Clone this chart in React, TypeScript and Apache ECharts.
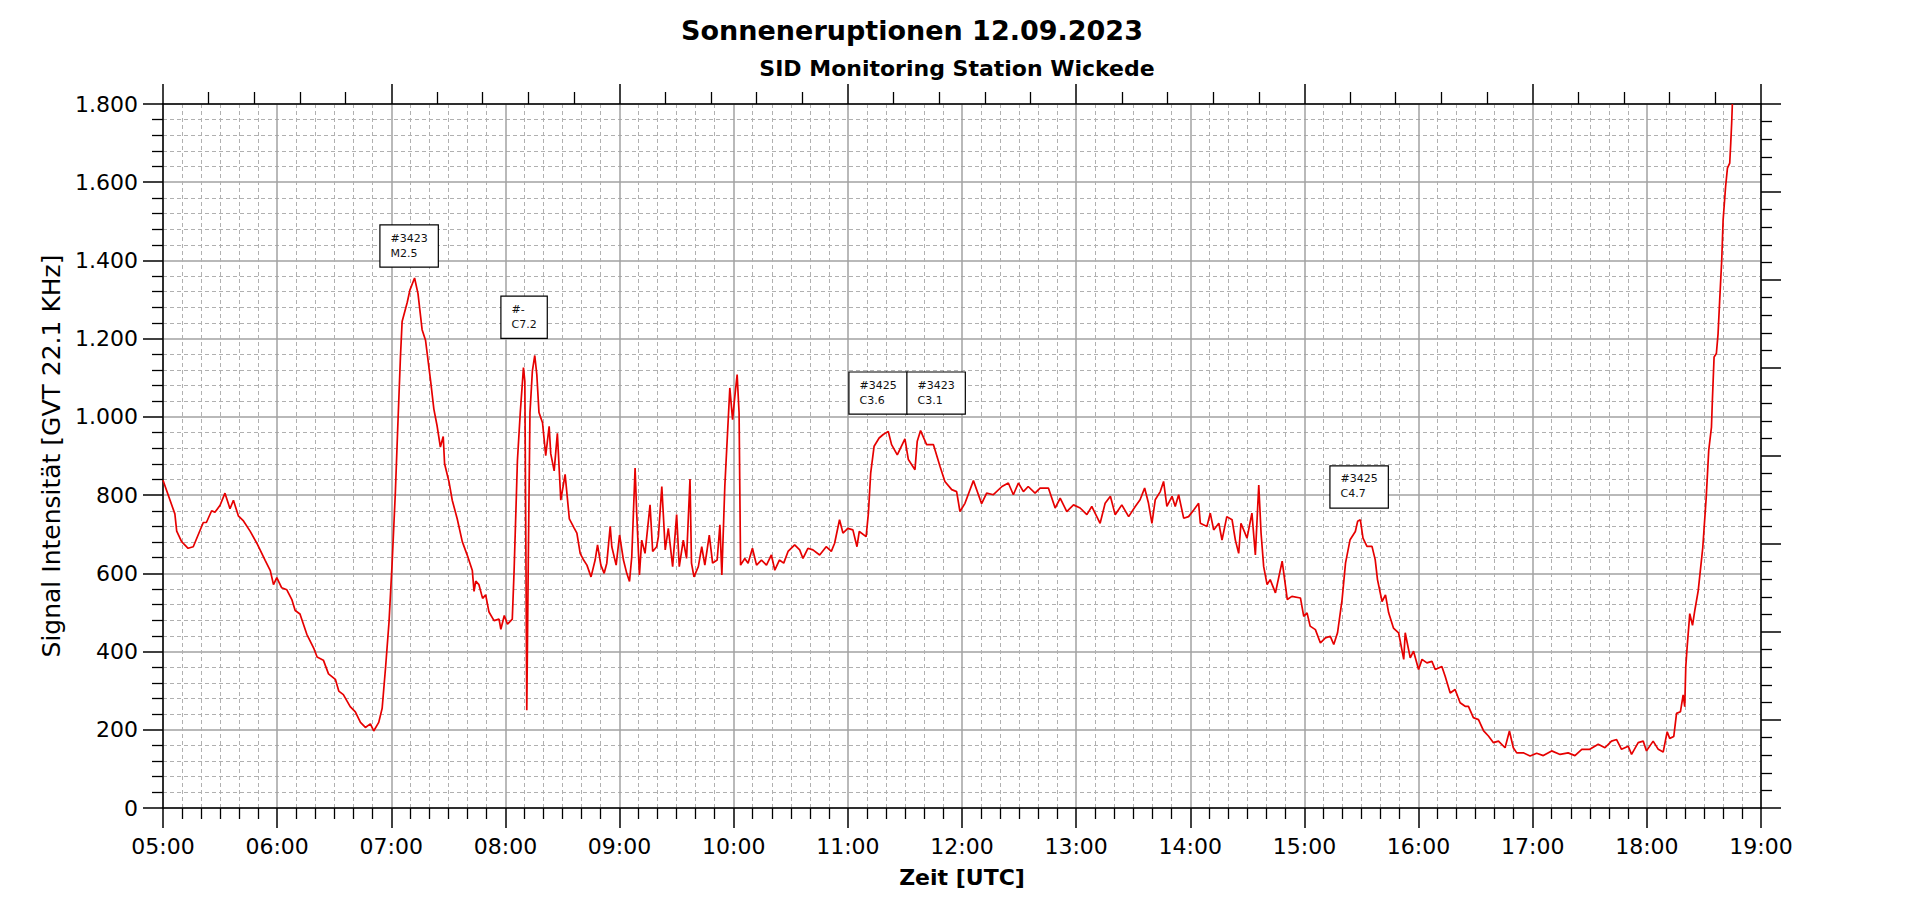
import React, { useEffect, useRef } from "react";
import * as echarts from "echarts";

// Time in decimal hours (UTC), signal value
const seg05to08: [number, number][] = [
  [5.0, 838], [5.104, 752], [5.12, 708], [5.163, 681], [5.22, 664], [5.265, 668], [5.353, 730], [5.38, 730],
  [5.426, 760], [5.455, 756], [5.5, 774], [5.543, 805], [5.587, 765], [5.617, 787], [5.66, 747], [5.705, 734],
  [5.763, 708], [5.822, 677], [5.895, 633], [5.94, 607], [5.968, 571], [5.997, 589], [6.04, 563], [6.085, 558],
  [6.13, 532], [6.158, 505], [6.2, 496], [6.26, 444], [6.32, 409], [6.35, 386], [6.405, 378], [6.45, 343],
  [6.51, 329], [6.54, 299], [6.58, 290], [6.64, 259], [6.685, 246], [6.73, 219], [6.773, 206], [6.817, 215],
  [6.846, 197], [6.89, 219], [6.92, 255], [6.95, 360], [6.98, 475], [7.007, 624], [7.036, 809], [7.057, 976],
  [7.08, 1152], [7.095, 1244], [7.14, 1293], [7.163, 1324], [7.204, 1355], [7.234, 1315], [7.27, 1223],
  [7.3, 1196], [7.315, 1161], [7.345, 1091], [7.373, 1020], [7.402, 976], [7.43, 923], [7.455, 950],
  [7.467, 880], [7.505, 835], [7.534, 787], [7.578, 739], [7.622, 681], [7.666, 646], [7.71, 607], [7.725, 554],
  [7.74, 580], [7.768, 571], [7.8, 536], [7.827, 545], [7.856, 501], [7.9, 479], [7.944, 483], [7.96, 457],
  [7.99, 492], [8.018, 470], [8.06, 483], [8.076, 607], [8.105, 888], [8.13, 1011], [8.158, 1126], [8.17, 1091],
  [8.18, 624], [8.187, 250], [8.2, 624], [8.215, 1011], [8.236, 1117], [8.257, 1157], [8.275, 1108],
  [8.294, 1011], [8.325, 985], [8.353, 901], [8.383, 976], [8.397, 906], [8.427, 862], [8.455, 958],
  [8.485, 787], [8.523, 853], [8.56, 739], [8.6, 717],
];

const seg08to11: [number, number][] = [
  [8.626, 703], [8.655, 651], [8.685, 634], [8.714, 621], [8.75, 591], [8.786, 634], [8.807, 673], [8.836, 621],
  [8.865, 600], [8.888, 626], [8.918, 720], [8.932, 668], [8.97, 621], [9.0, 698], [9.034, 634], [9.063, 600],
  [9.087, 579], [9.107, 643], [9.136, 869], [9.15, 754], [9.174, 596], [9.194, 685], [9.223, 651], [9.267, 775],
  [9.29, 656], [9.325, 668], [9.34, 694], [9.37, 822], [9.4, 660], [9.427, 715], [9.465, 617], [9.5, 750],
  [9.523, 617], [9.558, 685], [9.587, 638], [9.617, 841], [9.63, 626], [9.652, 591], [9.69, 617], [9.72, 668],
  [9.747, 621], [9.786, 698], [9.815, 626], [9.855, 634], [9.879, 724], [9.896, 596], [9.922, 822], [9.943, 942],
  [9.966, 1074], [9.99, 993], [10.01, 1053], [10.03, 1108], [10.047, 1010], [10.06, 621], [10.097, 638],
  [10.126, 626], [10.164, 664], [10.2, 621], [10.243, 634], [10.287, 621], [10.33, 647], [10.36, 608],
  [10.4, 634], [10.438, 626], [10.476, 656], [10.534, 673], [10.578, 660], [10.607, 638], [10.65, 664],
  [10.694, 660], [10.753, 647], [10.81, 668], [10.855, 656], [10.884, 677], [10.927, 737], [10.957, 703],
  [11.0, 715], [11.044, 711], [11.08, 668], [11.1, 707], [11.16, 694], [11.18, 754], [11.2, 856], [11.23, 925],
  [11.274, 946], [11.31, 955], [11.354, 963], [11.383, 929], [11.433, 903],
];

const seg11to15: [number, number][] = [
  [11.5, 944], [11.53, 891], [11.588, 865], [11.608, 938], [11.637, 965], [11.69, 929], [11.75, 929],
  [11.807, 874], [11.85, 835], [11.91, 814], [11.953, 809], [11.982, 758], [12.026, 779], [12.1, 837],
  [12.172, 778], [12.216, 805], [12.275, 801], [12.35, 822], [12.406, 831], [12.45, 801], [12.494, 831],
  [12.538, 809], [12.58, 822], [12.64, 805], [12.684, 818], [12.757, 818], [12.816, 767], [12.86, 792],
  [12.918, 758], [12.977, 775], [13.035, 767], [13.094, 750], [13.137, 771], [13.21, 728], [13.254, 779],
  [13.3, 797], [13.342, 750], [13.4, 775], [13.46, 745], [13.518, 771], [13.56, 788], [13.6, 818],
  [13.634, 779], [13.664, 728], [13.693, 788], [13.737, 809], [13.766, 835], [13.795, 771], [13.84, 797],
  [13.868, 771], [13.898, 801], [13.942, 741], [13.985, 745], [14.03, 762], [14.073, 779], [14.088, 728],
  [14.146, 720], [14.175, 754], [14.205, 711], [14.25, 728], [14.278, 685], [14.32, 745], [14.366, 737],
  [14.395, 685], [14.424, 651], [14.444, 728], [14.497, 690], [14.54, 754], [14.57, 647], [14.6, 826],
  [14.62, 703], [14.643, 617], [14.673, 571], [14.7, 584], [14.746, 550], [14.805, 631], [14.85, 533],
  [14.89, 541],
];

const seg15to19: [number, number][] = [
  [14.965, 537], [14.994, 490], [15.023, 499], [15.05, 465], [15.096, 456], [15.14, 422], [15.184, 435],
  [15.227, 439], [15.257, 418], [15.29, 448], [15.33, 533], [15.36, 626], [15.4, 686], [15.446, 707],
  [15.466, 733], [15.49, 737], [15.513, 690], [15.548, 669], [15.592, 669], [15.62, 635], [15.64, 584],
  [15.68, 528], [15.71, 545], [15.738, 499], [15.78, 460], [15.825, 448], [15.87, 380], [15.883, 448],
  [15.927, 384], [15.956, 401], [16.0, 354], [16.03, 380], [16.073, 371], [16.117, 375], [16.146, 354],
  [16.204, 362], [16.233, 337], [16.277, 294], [16.32, 303], [16.364, 269], [16.408, 260], [16.437, 260],
  [16.48, 231], [16.525, 226], [16.57, 197], [16.612, 184], [16.656, 167], [16.7, 171], [16.758, 154],
  [16.796, 197], [16.83, 154], [16.86, 141], [16.918, 141], [16.977, 133], [17.035, 140], [17.093, 134],
  [17.166, 146], [17.24, 137], [17.31, 141], [17.37, 134], [17.43, 150], [17.5, 150], [17.574, 163],
  [17.633, 154], [17.69, 171], [17.735, 175], [17.778, 150], [17.837, 158], [17.866, 137], [17.924, 167],
  [17.968, 171], [17.997, 146], [18.055, 171], [18.1, 150], [18.143, 143], [18.178, 195], [18.2, 178],
  [18.236, 183], [18.26, 242], [18.294, 246], [18.318, 289], [18.332, 259], [18.341, 361], [18.353, 412],
  [18.376, 497], [18.4, 467], [18.42, 505], [18.45, 556], [18.478, 633], [18.49, 666], [18.52, 794],
  [18.542, 914], [18.566, 974], [18.574, 1042], [18.589, 1153], [18.609, 1162], [18.624, 1213],
  [18.638, 1298], [18.656, 1401], [18.668, 1503], [18.69, 1589], [18.706, 1636], [18.726, 1649],
  [18.735, 1700], [18.743, 1751], [18.749, 1800],
];

const flareLabels: string[] = ["#3423\nM2.5", "#-\nC7.2", "#3425\nC3.6", "#3423\nC3.1", "#3425\nC4.7"];
// top-left corner of each label box in data coordinates [hour, value]
const flareAnchors: [number, number][] = [
  [6.91, 1488], [7.97, 1306], [11.019, 1112], [11.527, 1112], [15.233, 872],
];

const TITLE = "Sonneneruptionen 12.09.2023";
const SUBTITLE = "SID Monitoring Station Wickede";
const Y_NAME = "Signal Intensität [GVT 22.1 KHz]";
const X_NAME = "Zeit [UTC]";

const FONT = "DejaVu Sans";

export default function App() {
  const ref = useRef<HTMLDivElement>(null);

  useEffect(() => {
    if (!ref.current) return;
    const chart = echarts.init(ref.current, undefined, { renderer: "svg" });
    const data = [...seg05to08, ...seg08to11, ...seg11to15, ...seg15to19];

    const solidGrid = { show: true, lineStyle: { color: "#a2a2a2", width: 1.5, type: "solid" } };
    const dashedGrid = { show: true, lineStyle: { color: "#b0b0b0", width: 1, type: [4, 3] } };
    const axisLine = { show: true, onZero: false, lineStyle: { color: "#000", width: 1.5 } };

    chart.setOption({
      animation: false,
      backgroundColor: "#fff",
      graphic: [
        {
          type: "text",
          x: 912,
          y: 30,
          style: {
            text: TITLE,
            font: `bold 27px "${FONT}"`,
            fill: "#000",
            align: "center",
            verticalAlign: "middle",
          },
        },
        {
          type: "text",
          x: 957,
          y: 68,
          style: {
            text: SUBTITLE,
            font: `bold 22px "${FONT}"`,
            fill: "#000",
            align: "center",
            verticalAlign: "middle",
          },
        },
      ],
      grid: { left: 163, right: 159, top: 104, bottom: 96, containLabel: false },
      xAxis: [
        {
          type: "value",
          position: "bottom",
          min: 5,
          max: 19,
          interval: 1,
          name: X_NAME,
          nameLocation: "middle",
          nameGap: 58,
          nameTextStyle: { fontFamily: FONT, fontWeight: "bold", fontSize: 22, color: "#000", verticalAlign: "top" },
          axisLine,
          axisTick: { show: true, length: 20, lineStyle: { color: "#000", width: 1.5 } },
          minorTick: { show: true, splitNumber: 6, length: 11, lineStyle: { color: "#000", width: 1.3 } },
          axisLabel: {
            margin: 27,
            fontFamily: FONT,
            fontSize: 22,
            color: "#000",
            formatter: (v: number) => `${String(v).padStart(2, "0")}:00`,
          },
          splitLine: solidGrid,
          minorSplitLine: dashedGrid,
        },
        {
          type: "value",
          position: "top",
          min: 0,
          max: 14,
          interval: 2,
          axisLine,
          axisTick: { show: true, length: 20, lineStyle: { color: "#000", width: 1.5 } },
          minorTick: { show: true, splitNumber: 5, length: 12, lineStyle: { color: "#000", width: 1.3 } },
          axisLabel: { show: false },
          splitLine: { show: false },
        },
      ],
      yAxis: [
        {
          type: "value",
          position: "left",
          min: 0,
          max: 1800,
          interval: 200,
          name: Y_NAME,
          nameLocation: "middle",
          nameGap: 94,
          nameTextStyle: { fontFamily: FONT, fontSize: 25, color: "#000" },
          axisLine,
          axisTick: { show: true, length: 20, lineStyle: { color: "#000", width: 1.5 } },
          minorTick: { show: true, splitNumber: 5, length: 11, lineStyle: { color: "#000", width: 1.3 } },
          axisLabel: {
            margin: 25,
            fontFamily: FONT,
            fontSize: 22,
            color: "#000",
            formatter: (v: number) =>
              v >= 1000 ? `${Math.floor(v / 1000)}.${String(v % 1000).padStart(3, "0")}` : String(v),
          },
          splitLine: solidGrid,
          minorSplitLine: dashedGrid,
        },
        {
          type: "value",
          position: "right",
          min: 0,
          max: 8,
          interval: 1,
          axisLine,
          axisTick: { show: true, length: 20, lineStyle: { color: "#000", width: 1.5 } },
          minorTick: { show: true, splitNumber: 5, length: 11, lineStyle: { color: "#000", width: 1.3 } },
          axisLabel: { show: false },
          splitLine: { show: false },
        },
      ],
      series: [
        {
          type: "line",
          xAxisIndex: 0,
          yAxisIndex: 0,
          data,
          showSymbol: false,
          symbol: "none",
          lineStyle: { color: "#e60000", width: 1.7 },
          z: 5,
          markPoint: {
            symbol: "rect",
            symbolSize: 1,
            silent: true,
            itemStyle: { color: "rgba(0,0,0,0)" },
            label: {
              show: true,
              position: [0, 0],
              align: "left",
              verticalAlign: "top",
              fontFamily: FONT,
              fontSize: 11,
              lineHeight: 15,
              color: "#111",
              backgroundColor: "#fff",
              borderColor: "#000",
              borderWidth: 1.2,
              padding: [5, 10, 6, 10],
            },
            data: flareAnchors.map((c, i) => ({
              coord: c,
              value: flareLabels[i],
              label: { formatter: flareLabels[i] },
            })),
          },
        },
      ],
    });

    return () => chart.dispose();
  }, []);

  return (
    <div
      ref={ref}
      style={{ position: "fixed", left: 0, top: 0, width: 1920, height: 904, background: "#fff" }}
    />
  );
}
